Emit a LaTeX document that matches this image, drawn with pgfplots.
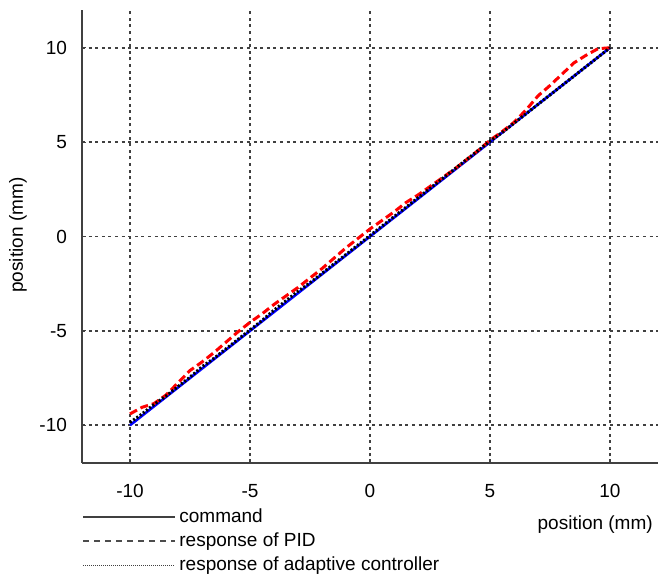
\documentclass[border=0pt]{standalone}
\usepackage{pgfplots}
\pgfplotsset{compat=1.18}
\usepackage{fontspec}
\setmainfont{Liberation Sans}
\begin{document}
\begin{tikzpicture}
\useasboundingbox (-41pt,-55.5pt) rectangle (289.5pt,231.5pt);
\begin{axis}[
  at={(0,0)}, anchor=south west,
  scale only axis, width=288pt, height=226.5pt,
  xmin=-12, xmax=12, ymin=-12, ymax=12,
  axis x line=bottom, axis y line=left,
  axis line style={-, line width=0.8pt, black!75},
  xtick={-10,-5,0,5,10}, ytick={-10,-5,0,5,10},
  xticklabels={-10,-5,0,5,10}, yticklabels={-10,-5,0,5,10},
  major tick length=2pt, tick align=inside,
  tick style={black!75, line width=0.6pt},
  xticklabel style={yshift=-7pt},
  yticklabel style={xshift=-4pt},
  grid=major,
  major grid style={black!75, line width=0.9pt, dash pattern=on 1.5pt off 1.8pt},
  font=\fontsize{9.5}{11}\selectfont,
  tick label style={font=\fontsize{9.5}{11}\selectfont},
  xlabel={position (mm)}, ylabel={position (mm)},
  xlabel style={at={(rel axis cs:0.891,-0.137)}, anchor=center},
  ylabel style={at={(rel axis cs:-0.111,0.503)}, anchor=center},
  legend style={at={(rel axis cs:0,-0.094)}, anchor=north west, draw=none, fill=none,
    inner sep=0pt, row sep=0.6pt, font=\fontsize{9.5}{11}\selectfont,
    nodes={inner sep=1.5pt}},
  legend cell align=left,
  legend image code/.code={\draw[#1] (0pt,0pt) -- (41.5pt,0pt); \path (0pt,0pt) -- (46pt,0pt);},
]
\addlegendimage{black!75, line width=1pt}
\addlegendentry{command}
\addlegendimage{black!70, line width=1pt, dash pattern=on 3pt off 2.5pt}
\addlegendentry{response of PID}
\addlegendimage{black!75, line width=0.7pt, dash pattern=on 0.5pt off 0.5pt}
\addlegendentry{response of adaptive controller}

% command
\addplot[forget plot, blue, line width=1.3pt] coordinates {(-10,-10) (10,10)};
% PID
\addplot[forget plot, red, line width=1.5pt, dash pattern=on 4pt off 2pt] coordinates {
(-10,-9.4) (-9.5,-9.05) (-9,-8.85) (-8.5,-8.4) (-8,-7.75) (-7.5,-7.1) (-7,-6.65)
(-6.5,-6.15) (-6,-5.6) (-5.5,-5.05) (-5,-4.55) (-4.5,-4.1) (-4,-3.6) (-3.5,-3.15)
(-3,-2.7) (-2.5,-2.2) (-2,-1.7) (-1.5,-1.15) (-1,-0.6) (-0.5,-0.1) (0,0.4)
(0.5,0.85) (1,1.3) (1.5,1.8) (2,2.2) (2.5,2.65) (3,3.1) (3.5,3.55) (4,4.05)
(4.5,4.55) (5,5.1) (5.5,5.55) (6,6.05) (6.5,6.7) (7,7.45) (7.5,8.0) (8,8.6)
(8.5,9.2) (9,9.6) (9.5,9.95) (10,10)};
% adaptive
\addplot[forget plot, black, line width=1.5pt, dash pattern=on 1pt off 1pt] coordinates {
(-10,-9.85) (-9.5,-9.4) (-9,-8.9) (-8.5,-8.45) (-8,-7.95) (-7.5,-7.45) (-7,-6.9)
(-6.5,-6.45) (-6,-5.95) (-5.5,-5.45) (-5,-4.95) (-4.5,-4.45) (-4,-3.9) (-3.5,-3.4)
(-3,-2.9) (-2.5,-2.45) (-2,-1.95) (-1.5,-1.45) (-1,-0.95) (-0.5,-0.45) (0,0.05)
(0.5,0.55) (1,1.05) (1.5,1.55) (2,2.05) (2.5,2.55) (3,3.05) (3.5,3.55) (4,4.05)
(4.5,4.55) (5,5.05) (5.5,5.5) (6,6.0) (6.5,6.5) (7,7.0) (7.5,7.5) (8,8.0)
(8.5,8.5) (9,9.0) (9.5,9.5) (10,10)};
\end{axis}
\end{tikzpicture}
\end{document}
